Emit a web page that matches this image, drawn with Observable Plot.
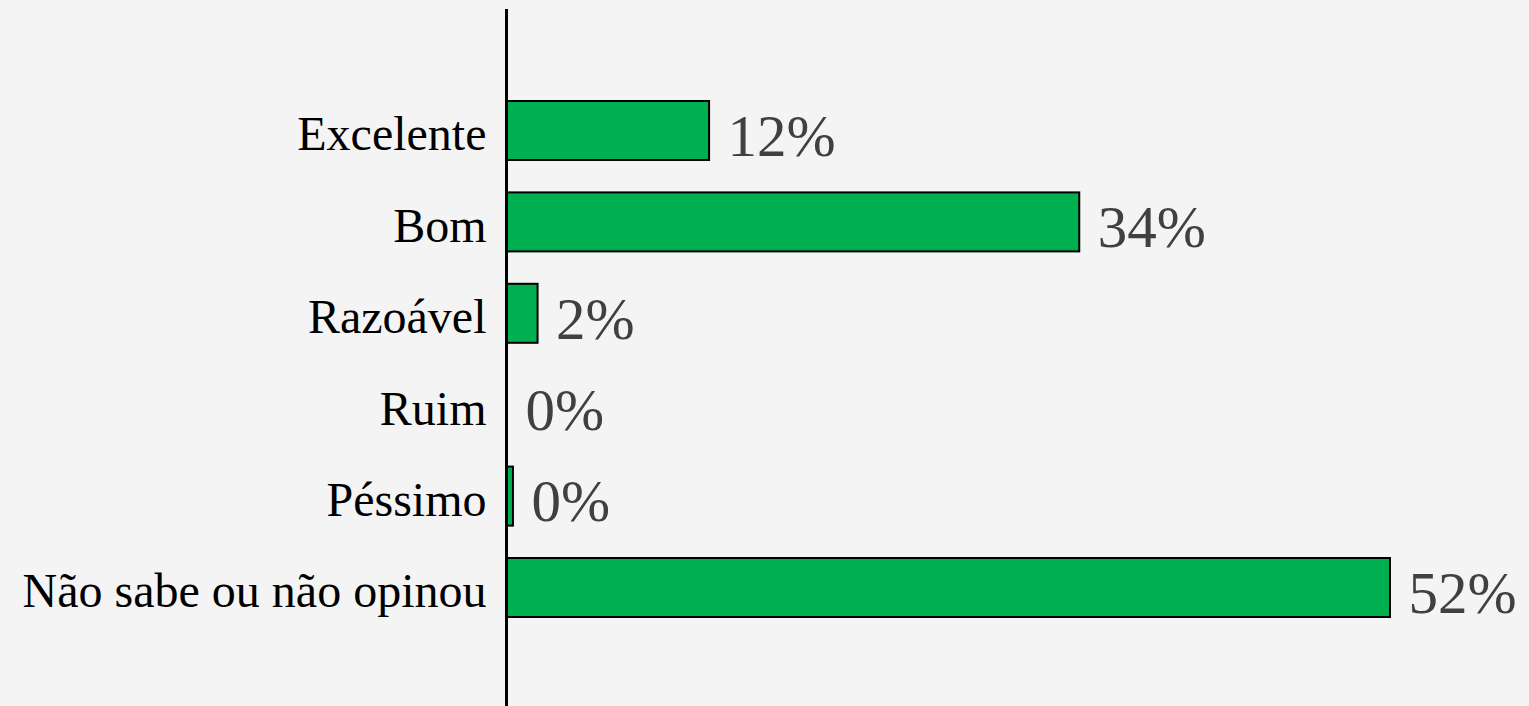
<!DOCTYPE html>
<html>
<head>
<meta charset="utf-8">
<script src="https://cdn.jsdelivr.net/npm/d3@7"></script>
<script src="https://cdn.jsdelivr.net/npm/@observablehq/plot@0.6"></script>
<style>
  html, body { margin: 0; padding: 0; background: #f4f4f4; }
  #chart svg { display: block; }
</style>
</head>
<body>
<div id="chart"></div>
<script>
const categories = ["Excelente", "Bom", "Razoável", "Ruim", "Péssimo", "Não sabe ou não opinou"];
const values = [11.9, 33.7, 1.8, 0, 0.35, 52];
const valueLabels = ["12%", "34%", "2%", "0%", "0%", "52%"];

const data = categories.map((c, i) => ({ category: c, value: values[i], label: valueLabels[i] }));

const font = "'Liberation Serif', 'Times New Roman', serif";

const chart = Plot.plot({
  width: 1529,
  height: 706,
  marginTop: 9,
  marginBottom: 0,
  marginLeft: 507,
  marginRight: 0,
  style: { background: "#f4f4f4", fontFamily: font },
  x: { domain: [0, 52], range: [507, 1390], axis: null },
  y: { domain: categories, range: [101, 617], paddingInner: 0.3545, paddingOuter: 0, round: false, axis: null },
  marks: [
    Plot.barX(data, { x: "value", y: "category", fill: "#00b050", stroke: "#000", strokeWidth: 2 }),
    Plot.ruleX([0], { stroke: "#000", strokeWidth: 3, dx: -1 }),
    Plot.text(data, { x: 0, y: "category", text: "category", textAnchor: "end", dx: -21, dy: 4, fontSize: 48, fill: "#000", fontFamily: font }),
    Plot.text(data, { x: "value", y: "category", text: "label", textAnchor: "start", dx: 18, dy: 6, fontSize: 59, fill: "#404040", fontFamily: font })
  ]
});
document.getElementById("chart").appendChild(chart);
</script>
</body>
</html>
